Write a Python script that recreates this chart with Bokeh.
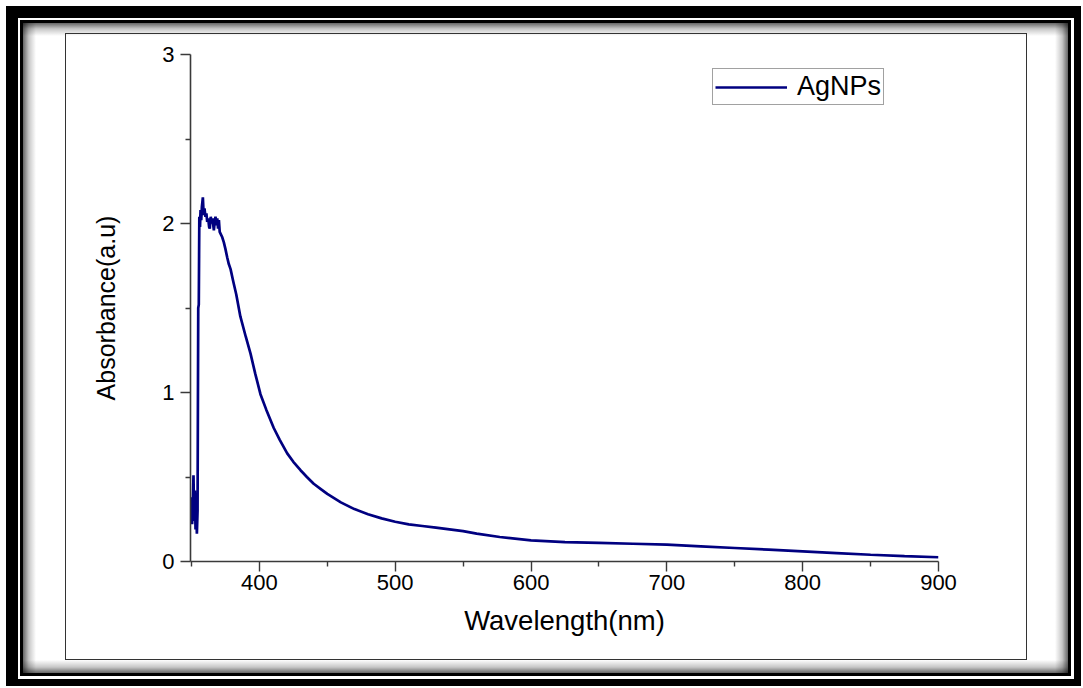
from bokeh.plotting import figure
from bokeh.models import FixedTicker, Legend, LegendItem
from bokeh.embed import file_html
from bokeh.resources import INLINE

# ---- data ----
wavelength = [350, 350.5, 351, 351.5, 352, 352.5, 353, 353.5, 354, 354.5,
              355, 355.4, 355.8, 356.3, 356.7, 357.2, 357.7, 358.4, 359.0, 359.6,
              360.3, 361.0, 361.6, 362.3, 363.0, 363.5, 364.2, 364.8, 365.5, 366.5,
              367.1, 367.7, 368.3, 369.0, 369.6, 370.2, 370.8, 371.4, 372.6, 373.8,
              375.0, 376.3, 377.5, 378.8, 380.7, 383, 386, 390, 393.5, 397,
              400.8, 405, 410.6, 415, 420.5, 425, 430.3, 435, 440, 445,
              450, 460, 470, 480, 490, 500, 510, 520, 530, 540,
              550, 560, 577, 600, 625, 650, 675, 700, 725, 750,
              775, 800, 825, 850, 875, 900]
absorbance = [0.38, 0.22, 0.33, 0.51, 0.24, 0.42, 0.19, 0.31, 0.165, 0.30,
              1.50, 1.52, 2.04, 1.98, 2.08, 2.02, 2.10, 2.155, 2.05, 2.09,
              2.04, 2.06, 2.01, 2.03, 1.98, 1.97, 2.04, 2.00, 2.03, 1.96,
              2.01, 2.04, 1.99, 2.03, 1.97, 2.02, 1.95, 1.94, 1.92, 1.89,
              1.85, 1.80, 1.76, 1.73, 1.66, 1.58, 1.45, 1.33, 1.23, 1.11,
              0.99, 0.90, 0.79, 0.72, 0.64, 0.59, 0.54, 0.50, 0.46, 0.43,
              0.40, 0.35, 0.31, 0.28, 0.255, 0.235, 0.22, 0.21, 0.20, 0.19,
              0.18, 0.165, 0.145, 0.125, 0.115, 0.11, 0.105, 0.10, 0.09, 0.08,
              0.07, 0.06, 0.05, 0.04, 0.032, 0.025]
x_major = [400, 500, 600, 700, 800, 900]
x_minor = [350, 450, 550, 650, 750, 850]
y_major = [0, 1, 2, 3]
y_minor = [0.5, 1.5, 2.5]
series_name = "AgNPs"

W, H = 1083, 688
FL, FR, FT, FB = 190, 145, 54, 127


def rect(color, x, y, w, h):
    return f"linear-gradient({color},{color}) {x}px {y}px / {w}px {h}px no-repeat"


def grad(direction, x, y, w, h):
    return (f"linear-gradient({direction}, rgba(0,0,0,0.6), rgba(0,0,0,0.22) 45%, rgba(0,0,0,0)) "
            f"{x}px {y}px / {w}px {h}px no-repeat")


layers = [
    # outer thick black frame
    rect("#000", 6, 6, 1075, 12), rect("#000", 6, 6, 12, 680),
    rect("#000", 1074, 6, 7, 680), rect("#000", 6, 679, 1075, 7),
    # inner black line
    rect("#000", 20, 20, 1051, 3), rect("#000", 20, 673, 1051, 3),
    rect("#000", 20, 20, 3, 656), rect("#000", 1068, 20, 3, 656),
    # inner picture border
    rect("#333", 65, 33, 962, 1), rect("#333", 65, 659, 962, 1),
    rect("#333", 65, 33, 1, 627), rect("#333", 1026, 33, 1, 627),
    # soft shadow inside the inner line
    grad("to right", 23, 23, 13, 650), grad("to bottom", 23, 23, 1045, 13),
    grad("to left", 1055, 23, 13, 650), grad("to top", 23, 660, 1045, 13),
]

p = figure(width=W, height=H, x_range=(349.3, 900), y_range=(0, 3),
           output_backend="svg", toolbar_location=None,
           min_border_left=FL, min_border_right=FR,
           min_border_top=FT, min_border_bottom=FB)
p.styles = {"background": ", ".join(layers) + ", white"}
p.xgrid.visible = False
p.ygrid.visible = False
p.outline_line_color = None
p.background_fill_color = "white"
p.border_fill_color = None

r = p.line(wavelength, absorbance, line_color="#000080", line_width=2.7)

FONT = "Liberation Sans"
for ax in (p.xaxis[0], p.yaxis[0]):
    ax.axis_line_color = "#3a3a3a"
    ax.axis_line_width = 1.6
    ax.major_tick_line_color = "#3a3a3a"
    ax.minor_tick_line_color = "#3a3a3a"
    ax.major_tick_line_width = 1.4
    ax.minor_tick_line_width = 1.4
    ax.major_tick_in = 0
    ax.major_tick_out = 10
    ax.minor_tick_in = 0
    ax.minor_tick_out = 5
    ax.major_label_text_font = FONT
    ax.major_label_text_font_size = "22px"
    ax.major_label_text_color = "black"
    ax.axis_label_text_font = FONT
    ax.axis_label_text_font_style = "normal"
    ax.axis_label_text_color = "black"

p.xaxis.axis_label_text_font_size = "27.5px"
p.yaxis.axis_label_text_font_size = "25px"
p.xaxis.ticker = FixedTicker(ticks=x_major, minor_ticks=x_minor)
p.yaxis.ticker = FixedTicker(ticks=y_major, minor_ticks=y_minor)
p.xaxis.axis_label = "Wavelength(nm)"
p.yaxis.axis_label = "Absorbance(a.u)"
p.xaxis.major_label_standoff = 3
p.xaxis.axis_label_standoff = 12
p.yaxis.major_label_standoff = 6
p.yaxis.axis_label_standoff = 39

legend = Legend(items=[LegendItem(label=series_name, renderers=[r])],
                location=(522, 456), padding=2, spacing=0, margin=0,
                glyph_width=72, glyph_height=24, label_standoff=10,
                label_text_font=FONT, label_text_font_size="27px",
                label_text_color="black",
                border_line_color="#444444", border_line_width=1.5,
                background_fill_color="white", background_fill_alpha=1)
p.add_layout(legend)

open("out.html", "w").write(file_html(p, INLINE))
